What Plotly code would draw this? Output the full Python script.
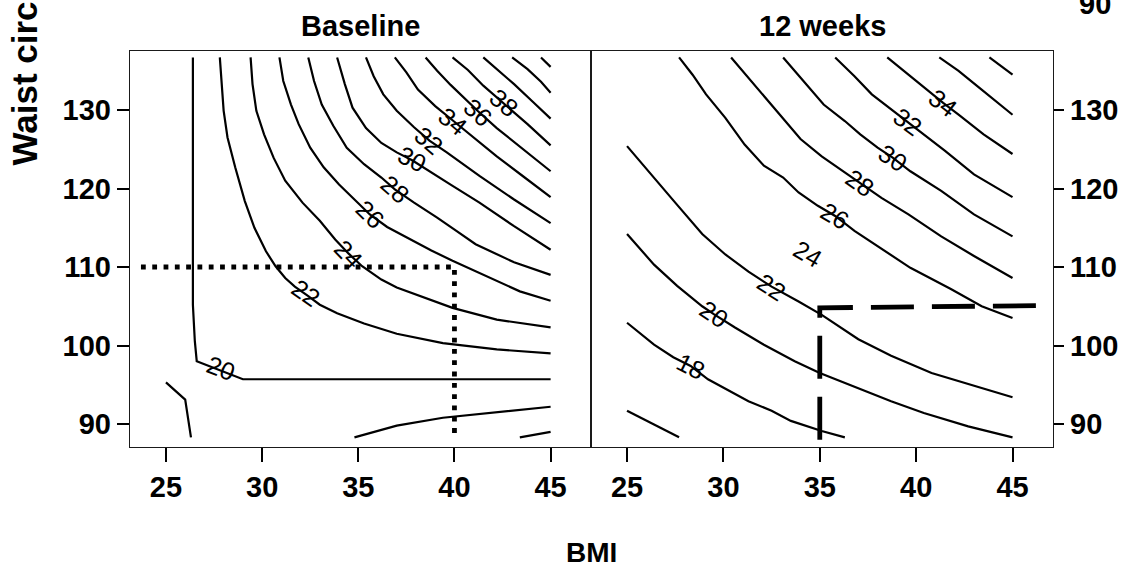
import math
import plotly.graph_objects as go

# ---------------------------------------------------------------
# Data
# ---------------------------------------------------------------
PANEL_TITLES = ["Baseline", "12 weeks"]
BMI_TICKS = [25, 30, 35, 40, 45]
WAIST_TICKS = [90, 100, 110, 120, 130]

# Baseline panel: contour lines (BMI, waist) per level
base_20_bmi = [26.4, 26.4, 26.4, 26.5, 26.6, 29.0, 45.0]
base_20_waist = [136.7, 116.3, 105.2, 100.6, 98.0, 95.7, 95.7]
base_22_bmi = [27.8, 27.9, 28.0, 28.2, 28.6, 29.1, 29.6, 30.2, 30.7, 31.2, 31.7, 32.4, 33.0, 33.9, 35.3, 37.0, 39.4, 42.2, 45.0]
base_22_waist = [136.7, 133.3, 129.9, 126.5, 122.7, 118.4, 115.0, 112.0, 110.1, 108.6, 107.5, 106.3, 105.2, 104.1, 102.8, 101.5, 100.3, 99.5, 99.0]
base_24_bmi = [29.4, 29.5, 29.7, 30.1, 30.6, 31.2, 32.1, 33.0, 33.8, 34.5, 35.2, 36.2, 37.0, 38.4, 39.9, 42.2, 45.0]
base_24_waist = [136.7, 133.3, 129.9, 126.9, 123.9, 121.0, 118.2, 115.9, 113.5, 111.7, 110.1, 108.4, 107.4, 106.1, 104.8, 103.3, 102.3]
base_26_bmi = [30.9, 31.1, 31.5, 31.9, 32.5, 33.2, 34.0, 34.8, 35.6, 36.5, 37.7, 38.8, 39.9, 41.9, 43.4, 45.0]
base_26_waist = [136.7, 133.7, 130.7, 128.2, 125.2, 122.7, 120.5, 118.6, 116.7, 115.1, 113.5, 112.1, 110.8, 108.6, 106.9, 105.7]
base_28_bmi = [32.4, 32.7, 33.1, 33.7, 34.4, 35.3, 36.2, 36.9, 37.9, 39.1, 40.1, 41.1, 43.1, 45.0]
base_28_waist = [136.7, 133.7, 130.7, 128.0, 125.2, 123.1, 121.4, 119.9, 118.2, 116.3, 114.6, 112.9, 110.6, 109.0]
base_30_bmi = [33.9, 34.3, 34.7, 35.4, 36.2, 37.0, 37.8, 38.8, 39.8, 41.3, 43.1, 45.0]
base_30_waist = [136.7, 133.3, 130.3, 127.7, 125.8, 124.6, 123.6, 122.1, 120.5, 118.2, 115.2, 112.2]
base_32_bmi = [35.4, 35.8, 36.3, 37.0, 37.9, 38.7, 39.6, 41.3, 43.1, 45.0]
base_32_waist = [136.7, 134.3, 132.0, 129.9, 127.8, 126.1, 124.6, 121.6, 118.6, 115.6]
base_34_bmi = [36.9, 37.5, 38.1, 39.0, 39.9, 40.8, 42.2, 43.6, 45.0]
base_34_waist = [136.7, 134.8, 132.6, 130.5, 128.7, 126.9, 124.1, 121.5, 118.9]
base_36_bmi = [38.5, 39.1, 39.8, 40.5, 41.2, 42.2, 43.6, 45.0]
base_36_waist = [136.7, 135.0, 133.2, 131.5, 129.9, 127.7, 124.9, 122.2]
base_38_bmi = [39.9, 40.7, 41.5, 42.6, 43.8, 45.0]
base_38_waist = [136.7, 135.1, 133.1, 130.8, 128.2, 125.5]
base_40_bmi = [41.5, 42.2, 43.1, 44.1, 45.0]
base_40_waist = [136.7, 135.2, 133.3, 131.0, 128.9]
base_42_bmi = [43.0, 43.8, 44.5, 45.0]
base_42_waist = [136.7, 135.2, 133.6, 132.2]
base_44_bmi = [44.5, 45.0]
base_44_waist = [136.7, 135.5]
# unlabelled fragments near the bottom of the baseline surface
base_lowleft_bmi = [25.0, 26.0, 26.3]
base_lowleft_waist = [95.3, 93.1, 88.3]
base_lowright1_bmi = [34.8, 36.0, 37.0, 39.4, 42.2, 45.0]
base_lowright1_waist = [88.3, 89.1, 89.8, 90.8, 91.5, 92.2]
base_lowright2_bmi = [43.4, 45.0]
base_lowright2_waist = [88.3, 89.0]

base_label_levels = [20, 22, 24, 26, 28, 30, 32, 34, 36, 38]
base_label_bmi = [27.85, 32.3, 34.5, 35.6, 36.9, 37.8, 38.7, 39.9, 41.2, 42.6]
base_label_waist = [97.1, 106.7, 111.7, 116.7, 119.9, 123.7, 126.1, 128.6, 129.7, 130.9]

# 12-week panel: contour lines (BMI, waist) per level
wk_16_bmi = [25.0, 27.7]
wk_16_waist = [91.7, 88.3]
wk_18_bmi = [25.0, 26.4, 27.4, 28.3, 29.2, 30.2, 31.3, 32.5, 33.5, 35.1, 36.3]
wk_18_waist = [102.9, 100.1, 98.5, 97.4, 95.7, 94.4, 92.9, 91.7, 90.4, 89.1, 88.3]
wk_20_bmi = [25.0, 26.4, 27.6, 28.9, 29.5, 30.6, 32.1, 33.7, 35.0, 37.0, 38.7, 40.4, 42.7, 45.0]
wk_20_waist = [114.2, 110.3, 107.6, 105.0, 104.0, 102.3, 100.1, 98.0, 96.5, 94.5, 92.9, 91.4, 89.7, 88.3]
wk_22_bmi = [25.0, 26.3, 27.5, 28.9, 30.1, 31.3, 32.5, 33.9, 35.1, 37.0, 38.7, 40.8, 42.7, 45.0]
wk_22_waist = [125.4, 121.6, 118.2, 114.2, 111.6, 109.4, 107.5, 105.6, 103.9, 100.8, 98.7, 96.5, 95.1, 93.4]
wk_26_bmi = [27.7, 28.4, 29.1, 30.1, 31.1, 32.1, 33.1, 33.9, 34.9, 35.8, 36.8, 38.2, 39.7, 41.8, 43.4, 45.0]
wk_26_waist = [136.7, 134.5, 132.0, 129.0, 125.6, 122.9, 121.4, 119.5, 117.8, 116.5, 114.6, 112.3, 109.9, 107.2, 105.0, 103.5]
wk_28_bmi = [30.4, 31.3, 32.2, 33.2, 34.0, 35.1, 36.1, 37.1, 38.2, 39.6, 41.3, 43.0, 45.0]
wk_28_waist = [136.7, 134.1, 131.4, 128.6, 126.3, 124.1, 122.4, 120.7, 118.8, 116.7, 113.9, 111.4, 108.6]
wk_30_bmi = [33.1, 34.0, 34.6, 35.2, 36.3, 37.1, 38.0, 38.8, 39.7, 41.3, 43.0, 45.0]
wk_30_waist = [136.7, 134.1, 132.4, 130.7, 128.6, 126.9, 125.2, 123.9, 122.2, 119.7, 116.7, 113.9]
wk_32_bmi = [35.8, 36.8, 37.7, 38.7, 39.6, 40.4, 41.5, 43.0, 45.0]
wk_32_waist = [136.7, 134.3, 132.0, 130.1, 128.5, 126.9, 124.8, 121.8, 118.9]
wk_34_bmi = [38.5, 39.6, 40.6, 41.4, 42.2, 43.5, 45.0]
wk_34_waist = [136.7, 134.5, 132.4, 130.9, 129.4, 126.9, 124.4]
wk_36_bmi = [41.2, 42.2, 43.3, 45.0]
wk_36_waist = [136.7, 135.0, 132.8, 129.4]
wk_38_bmi = [43.8, 45.0]
wk_38_waist = [136.7, 134.5]

wk_label_levels = [18, 20, 22, 24, 26, 28, 30, 32, 34]
wk_label_bmi = [28.3, 29.5, 32.5, 34.4, 35.8, 37.1, 38.8, 39.6, 41.4]
wk_label_waist = [97.4, 104.0, 107.5, 111.7, 116.5, 120.7, 123.9, 128.5, 130.9]

# Reference guides: dotted (baseline) and dashed (12 weeks)
base_guide_bmi = [23.7, 40.0, 40.0]
base_guide_waist = [110.0, 110.0, 88.2]
wk_guide_bmi = [35.0, 35.0, 46.8]
wk_guide_waist = [88.0, 104.8, 105.1]

# ---------------------------------------------------------------
# Layout geometry
# ---------------------------------------------------------------
FIG_W, FIG_H = 1139, 567
P1_L, P1_R = 130, 591
P2_L, P2_R = 591, 1053
P_TOP, P_BOT = 51, 447
X_RANGE = [23.13, 47.1]
Y_RANGE = [87.07, 137.52]
FONT = "Liberation Sans"
LINE_W = 2.2


def fx(px):
    return px / FIG_W


def fy(py):
    return 1 - py / FIG_H


base_lines = [
    (base_20_bmi, base_20_waist), (base_22_bmi, base_22_waist),
    (base_24_bmi, base_24_waist), (base_26_bmi, base_26_waist),
    (base_28_bmi, base_28_waist), (base_30_bmi, base_30_waist),
    (base_32_bmi, base_32_waist), (base_34_bmi, base_34_waist),
    (base_36_bmi, base_36_waist), (base_38_bmi, base_38_waist),
    (base_40_bmi, base_40_waist), (base_42_bmi, base_42_waist),
    (base_44_bmi, base_44_waist),
    (base_lowleft_bmi, base_lowleft_waist),
    (base_lowright1_bmi, base_lowright1_waist),
    (base_lowright2_bmi, base_lowright2_waist),
]
wk_lines = [
    (wk_16_bmi, wk_16_waist), (wk_18_bmi, wk_18_waist),
    (wk_20_bmi, wk_20_waist), (wk_22_bmi, wk_22_waist),
    (wk_26_bmi, wk_26_waist), (wk_28_bmi, wk_28_waist),
    (wk_30_bmi, wk_30_waist), (wk_32_bmi, wk_32_waist),
    (wk_34_bmi, wk_34_waist), (wk_36_bmi, wk_36_waist),
    (wk_38_bmi, wk_38_waist),
]

fig = go.Figure()

for (xs, ys) in base_lines:
    fig.add_trace(go.Scatter(x=xs, y=ys, mode="lines", xaxis="x", yaxis="y",
                             line=dict(color="black", width=LINE_W), hoverinfo="skip"))
for (xs, ys) in wk_lines:
    fig.add_trace(go.Scatter(x=xs, y=ys, mode="lines", xaxis="x2", yaxis="y2",
                             line=dict(color="black", width=LINE_W), hoverinfo="skip"))

fig.add_trace(go.Scatter(x=base_guide_bmi, y=base_guide_waist, mode="lines",
                         xaxis="x", yaxis="y",
                         line=dict(color="black", width=4.8, dash="4.8px,6.5px"),
                         hoverinfo="skip"))
fig.add_trace(go.Scatter(x=wk_guide_bmi, y=wk_guide_waist, mode="lines",
                         xaxis="x2", yaxis="y2",
                         line=dict(color="black", width=4.8, dash="43px,18px"),
                         hoverinfo="skip"))

# pixel scale of each panel, used to orient labels along their lines
kx = (P1_R - P1_L) / (X_RANGE[1] - X_RANGE[0])
ky = (P_BOT - P_TOP) / (Y_RANGE[1] - Y_RANGE[0])


def seg_dist(px, py, ax, ay, bx, by):
    dx, dy = bx - ax, by - ay
    L = dx * dx + dy * dy
    t = 0 if L == 0 else max(0, min(1, ((px - ax) * dx + (py - ay) * dy) / L))
    cx, cy = ax + t * dx, ay + t * dy
    return math.hypot(px - cx, py - cy)


def label_angle(bmi, waist, lines):
    px, py = bmi * kx, -waist * ky
    best, ang = None, 0.0
    for xs, ys in lines:
        for i in range(len(xs) - 1):
            ax, ay = xs[i] * kx, -ys[i] * ky
            bx, by = xs[i + 1] * kx, -ys[i + 1] * ky
            d = seg_dist(px, py, ax, ay, bx, by)
            if best is None or d < best:
                best = d
                ang = math.degrees(math.atan2(by - ay, bx - ax))
    if ang > 90:
        ang -= 180
    if ang < -90:
        ang += 180
    return ang


LABEL_SIZE = 25
annotations = []
for lev, bx, wy in zip(base_label_levels, base_label_bmi, base_label_waist):
    annotations.append(dict(x=bx, y=wy, xref="x", yref="y", text=str(lev),
                            showarrow=False, textangle=label_angle(bx, wy, base_lines),
                            font=dict(family=FONT, size=LABEL_SIZE, color="black"),
                            xanchor="center", yanchor="middle"))
for lev, bx, wy in zip(wk_label_levels, wk_label_bmi, wk_label_waist):
    annotations.append(dict(x=bx, y=wy, xref="x2", yref="y2", text=str(lev),
                            showarrow=False, textangle=label_angle(bx, wy, wk_lines),
                            font=dict(family=FONT, size=LABEL_SIZE, color="black"),
                            xanchor="center", yanchor="middle"))

bold = dict(family=FONT, color="black", weight="bold")
# strip titles
for title, cx in zip(PANEL_TITLES, [(P1_L + P1_R) / 2, (P2_L + P2_R) / 2]):
    annotations.append(dict(x=fx(cx), y=fy(26), xref="paper", yref="paper",
                            text=title, showarrow=False, xanchor="center",
                            yanchor="middle", font=dict(bold, size=29)))
# axis titles
annotations.append(dict(x=fx((P1_L + P2_R) / 2), y=fy(552), xref="paper", yref="paper",
                        text="BMI", showarrow=False, xanchor="center", yanchor="middle",
                        font=dict(bold, size=28)))
annotations.append(dict(x=fx(24), y=fy(168), xref="paper", yref="paper",
                        text="Waist circumference", showarrow=False, textangle=-90,
                        xanchor="center", yanchor="bottom", font=dict(bold, size=35)))
# tick label of the row above, clipped by the top edge
annotations.append(dict(x=fx(1077), y=fy(4), xref="paper", yref="paper",
                        text="90", showarrow=False, xanchor="left", yanchor="middle",
                        font=dict(bold, size=29)))

axis_common = dict(showgrid=False, zeroline=False, showline=True, linecolor="#1a1a1a",
                   linewidth=1.4, mirror=True, ticks="outside", tickcolor="black",
                   tickwidth=2, tickfont=dict(bold, size=29))

fig.update_layout(
    width=FIG_W, height=FIG_H,
    margin=dict(l=0, r=0, t=0, b=0),
    paper_bgcolor="white", plot_bgcolor="white",
    showlegend=False,
    annotations=annotations,
    xaxis=dict(axis_common, domain=[fx(P1_L), fx(P1_R)], range=X_RANGE,
               tickvals=BMI_TICKS, ticklen=14, anchor="y"),
    yaxis=dict(axis_common, domain=[fy(P_BOT), fy(P_TOP)], range=Y_RANGE,
               tickvals=WAIST_TICKS, ticklen=12, side="left", anchor="x"),
    xaxis2=dict(axis_common, domain=[fx(P2_L), fx(P2_R)], range=X_RANGE,
                tickvals=BMI_TICKS, ticklen=14, anchor="y2"),
    yaxis2=dict(axis_common, domain=[fy(P_BOT), fy(P_TOP)], range=Y_RANGE,
                tickvals=WAIST_TICKS, ticklen=10, side="right", anchor="x2"),
)

fig.write_html("out.html")
